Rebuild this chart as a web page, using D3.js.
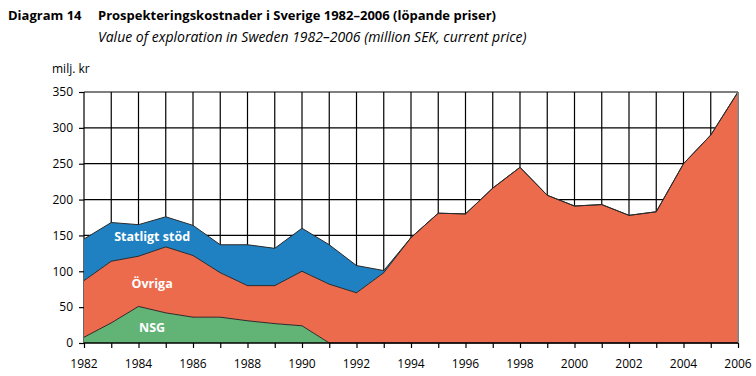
<!DOCTYPE html>
<html>
<head>
<meta charset="utf-8">
<script src="https://cdn.jsdelivr.net/npm/d3@7"></script>
<style>
body { margin: 0; background: #fff; }
svg text { font-family: "Open Sans", "Noto Sans", sans-serif; }
</style>
</head>
<body>
<div id="chart"></div>
<script>
// data
var years = [1982, 1983, 1984, 1985, 1986, 1987, 1988, 1989, 1990, 1991, 1992, 1993,
    1994, 1995, 1996, 1997, 1998, 1999, 2000, 2001, 2002, 2003, 2004, 2005, 2006];
var nsg = [8, 28, 51, 42, 36, 36, 31, 27, 24, 0, 0, 0,
    0, 0, 0, 0, 0, 0, 0, 0, 0, 0, 0, 0, 0];
var ovriga = [79, 86, 70, 92, 86, 62, 49, 53, 76, 82, 70, 98,
    147, 181, 180, 216, 245, 206, 191, 193, 178, 183, 250, 290, 350];
var statligt = [58, 54, 44, 42, 42, 39, 57, 52, 60, 55, 38, 3,
    0, 0, 0, 0, 0, 0, 0, 0, 0, 0, 0, 0, 0];
var yTicks = [0, 50, 100, 150, 200, 250, 300, 350];
var xLabels = [1982, 1984, 1986, 1988, 1990, 1992, 1994, 1996, 1998, 2000, 2002, 2004, 2006];

var W = 756, H = 376;
var margin = {top: 92, left: 84, right: 18, bottom: 33};
var width = W - margin.left - margin.right,
    height = H - margin.top - margin.bottom;

var svg = d3.select('#chart').append('svg')
    .attr('width', W)
    .attr('height', H);

// titles
svg.append('text').attr('x', 8).attr('y', 20)
    .style('font-size', '13px').style('font-weight', 'bold')
    .text('Diagram 14');
svg.append('text').attr('x', 98).attr('y', 20)
    .style('font-size', '13px').style('font-weight', 'bold')
    .text('Prospekteringskostnader i Sverige 1982–2006 (löpande priser)');
svg.append('text').attr('x', 98).attr('y', 42)
    .style('font-size', '14px').style('font-style', 'italic')
    .text('Value of exploration in Sweden 1982–2006 (million SEK, current price)');
svg.append('text').attr('x', 52).attr('y', 73)
    .style('font-size', '12px')
    .text('milj. kr');

var g = svg.append('g')
    .attr('transform', `translate(${margin.left},${margin.top})`);

var x = d3.scaleLinear().domain([1982, 2006]).range([0, width]);
var y = d3.scaleLinear().domain([0, 350]).range([height, 0]);

// grid
g.append('g').selectAll('line')
    .data(years)
    .enter().append('line')
    .attr('x1', d => x(d)).attr('x2', d => x(d))
    .attr('y1', 0).attr('y2', height)
    .attr('stroke', '#000').attr('stroke-width', 1.2);
g.append('g').selectAll('line')
    .data(yTicks.slice(1))
    .enter().append('line')
    .attr('x1', 0).attr('x2', width)
    .attr('y1', d => y(d)).attr('y2', d => y(d))
    .attr('stroke', '#000').attr('stroke-width', 1.2);

// stacked areas
var rows = years.map((yr, i) => ({year: yr, nsg: nsg[i], ovriga: ovriga[i], statligt: statligt[i]}));
var keys = ['nsg', 'ovriga', 'statligt'];
var colors = {nsg: '#62b476', ovriga: '#ec6b4d', statligt: '#1f81c1'};
var stack = d3.stack().keys(keys)(rows);

var area = d3.area()
    .x(d => x(d.data.year))
    .y0(d => y(d[0]))
    .y1(d => y(d[1]));
var topLine = d3.line()
    .x(d => x(d.data.year))
    .y(d => y(d[1]));

g.append('g').selectAll('path')
    .data(stack)
    .enter().append('path')
    .attr('d', area)
    .attr('fill', d => colors[d.key]);

g.append('g').selectAll('path')
    .data(stack)
    .enter().append('path')
    .attr('d', topLine)
    .attr('fill', 'none')
    .attr('stroke', '#2a2a2a')
    .attr('stroke-width', 1);

// right edge
g.append('line')
    .attr('x1', x(2006)).attr('x2', x(2006))
    .attr('y1', 0).attr('y2', height)
    .attr('stroke', '#888').attr('stroke-width', 1.5);

// axes
var yAxis = g.append('g')
    .call(d3.axisLeft(y).tickValues(yTicks).tickSize(5).tickPadding(6));
yAxis.select('.domain').remove();
yAxis.selectAll('line').attr('stroke', '#000').attr('stroke-width', 1.2);
yAxis.selectAll('text').style('font-size', '12px').attr('fill', '#000')
    .style('font-family', '"Open Sans", "Noto Sans", sans-serif');

var xAxis = g.append('g')
    .attr('transform', `translate(0,${height})`)
    .call(d3.axisBottom(x).tickValues(years).tickSize(5).tickFormat(''));
xAxis.select('.domain').attr('stroke', '#000').attr('stroke-width', 1.5)
    .attr('d', `M0,0H${width}`);
xAxis.selectAll('line').attr('stroke', '#000').attr('stroke-width', 1.2);

g.append('g').selectAll('text')
    .data(xLabels)
    .enter().append('text')
    .attr('x', d => x(d))
    .attr('y', height + 25)
    .attr('text-anchor', 'middle')
    .style('font-size', '12px')
    .text(d => d);

// series labels
var labels = [
    {text: 'Statligt stöd', year: 1984.5, val: 142},
    {text: 'Övriga', year: 1984.5, val: 77},
    {text: 'NSG', year: 1984.5, val: 16}
];
g.append('g').selectAll('text')
    .data(labels)
    .enter().append('text')
    .attr('x', d => x(d.year))
    .attr('y', d => y(d.val))
    .attr('text-anchor', 'middle')
    .attr('fill', '#fff')
    .style('font-size', '12.5px')
    .style('font-weight', 'bold')
    .text(d => d.text);
</script>
</body>
</html>
